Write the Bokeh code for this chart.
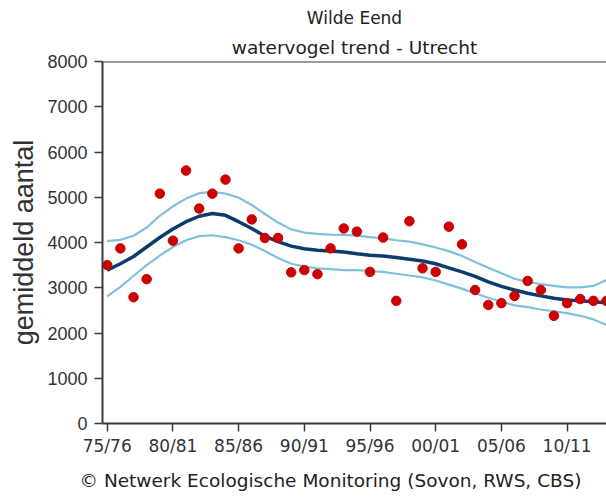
from bokeh.plotting import figure
from bokeh.models import Range1d, FixedTicker, Span, ColumnDataSource, Title
from bokeh.embed import file_html
from bokeh.resources import INLINE

# seasons 1975/76 .. 2013/14 (index 0..38)
season_index = list(range(39))
seasons = ["75/76", "76/77", "77/78", "78/79", "79/80", "80/81", "81/82", "82/83",
           "83/84", "84/85", "85/86", "86/87", "87/88", "88/89", "89/90", "90/91",
           "91/92", "92/93", "93/94", "94/95", "95/96", "96/97", "97/98", "98/99",
           "99/00", "00/01", "01/02", "02/03", "03/04", "04/05", "05/06", "06/07",
           "07/08", "08/09", "09/10", "10/11", "11/12", "12/13", "13/14"]

counts = [3500, 3870, 2790, 3190, 5080, 4040, 5590, 4750, 5080, 5390,
          3870, 4510, 4100, 4100, 3340, 3390, 3300, 3870, 4310, 4240,
          3350, 4110, 2710, 4470, 3430, 3350, 4350, 3960, 2950, 2620,
          2660, 2820, 3150, 2950, 2380, 2660, 2750, 2710, 2710]

trend = [3390, 3530, 3690, 3900, 4110, 4300, 4460, 4580, 4640, 4600,
         4460, 4310, 4140, 4020, 3920, 3860, 3830, 3810, 3790, 3750,
         3720, 3700, 3670, 3630, 3590, 3530, 3440, 3350, 3250, 3130,
         3030, 2950, 2880, 2820, 2770, 2730, 2710, 2690, 2670]

upper = [4030, 4060, 4150, 4330, 4590, 4800, 4970, 5090, 5120, 5080,
         4990, 4830, 4630, 4440, 4290, 4220, 4190, 4175, 4170, 4150,
         4120, 4090, 4050, 4020, 3960, 3890, 3810, 3700, 3570, 3440,
         3320, 3200, 3130, 3080, 3040, 3010, 3010, 3040, 3170]

lower = [2810, 3020, 3260, 3500, 3710, 3900, 4050, 4140, 4160, 4120,
         4050, 3950, 3810, 3660, 3530, 3470, 3430, 3410, 3390, 3390,
         3370, 3350, 3310, 3270, 3230, 3160, 3070, 2980, 2880, 2780,
         2690, 2610, 2570, 2520, 2480, 2440, 2380, 2300, 2180]

x_tick_pos = [0, 5, 10, 15, 20, 25, 30, 35]
x_tick_labels = ["75/76", "80/81", "85/86", "90/91", "95/96", "00/01", "05/06", "10/11"]
y_ticks = [0, 1000, 2000, 3000, 4000, 5000, 6000, 7000, 8000]

src = ColumnDataSource(dict(x=season_index, counts=counts, trend=trend,
                            upper=upper, lower=lower, season=seasons))

p = figure(width=606, height=499, x_range=Range1d(-0.36, 38.0), y_range=Range1d(0, 8000),
           output_backend="svg", toolbar_location=None,
           min_border_left=102, min_border_right=0, min_border_top=61, min_border_bottom=75)
p.outline_line_color = None
p.grid.visible = False
p.background_fill_color = "white"
p.border_fill_color = "white"

title_font = "DejaVu Sans"
p.title.text = "Wilde Eend"
p.title.align = "center"
p.title.text_font = title_font
p.title.text_font_size = "17px"
p.title.text_font_style = "normal"
p.title.text_color = "#222222"
p.title.standoff = 6
p.add_layout(Title(text="watervogel trend - Utrecht", align="center", text_font=title_font,
                   text_font_size="18.5px", text_font_style="normal",
                   text_color="#222222", standoff=8), "above")

axis_col = "#3a3a3a"
for ax in (p.xaxis[0], p.yaxis[0]):
    ax.axis_line_color = axis_col
    ax.axis_line_width = 2
    ax.major_tick_line_color = axis_col
    ax.major_tick_line_width = 1.5
    ax.major_tick_in = 0
    ax.major_tick_out = 8
    ax.minor_tick_line_color = None
    ax.major_label_text_color = "#333333"

p.xaxis.ticker = FixedTicker(ticks=x_tick_pos)
p.xaxis.major_label_overrides = {t: l for t, l in zip(x_tick_pos, x_tick_labels)}
p.xaxis.major_label_text_font = "DejaVu Sans"
p.xaxis.major_label_text_font_size = "17px"
p.xaxis.major_label_standoff = 4

p.yaxis.ticker = FixedTicker(ticks=y_ticks)
p.yaxis.major_label_text_font = "Liberation Sans"
p.yaxis.major_label_text_font_size = "18px"
p.yaxis.major_label_standoff = 7
p.yaxis.axis_label = "gemiddeld aantal"
p.yaxis.axis_label_text_font = "Liberation Sans"
p.yaxis.axis_label_text_font_size = "27px"
p.yaxis.axis_label_text_font_style = "normal"
p.yaxis.axis_label_text_color = "#333333"
p.yaxis.axis_label_standoff = 5

p.add_layout(Title(text="\u00a9 Netwerk Ecologische Monitoring (Sovon, RWS, CBS)",
                   align="left", offset=-23, text_font=title_font,
                   text_font_size="18.5px", text_font_style="normal",
                   text_color="#222222", standoff=18), "below")

p.add_layout(Span(location=8000, dimension="width", line_color=axis_col, line_width=2))

p.line("x", "upper", source=src, line_color="#7fc0de", line_width=2.2)
p.line("x", "lower", source=src, line_color="#7fc0de", line_width=2.2)
p.line("x", "trend", source=src, line_color="#0b3c6c", line_width=3.5)
p.scatter("x", "counts", source=src, size=9.5, fill_color="#cc0000", line_color="#cc0000")

open("out.html", "w").write(file_html(p, INLINE))
